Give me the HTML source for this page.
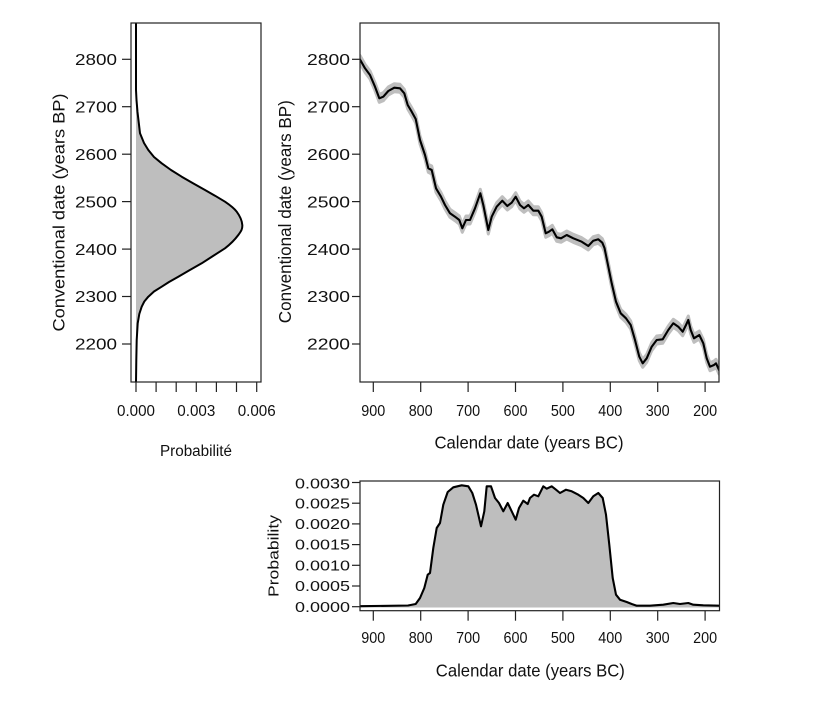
<!DOCTYPE html>
<html><head><meta charset="utf-8"><style>
html,body{margin:0;padding:0;background:#fff;}
svg{display:block;}
text{font-family:"Liberation Sans",Arial,sans-serif;fill:#111;}
</style></head><body>
<svg width="840" height="704" viewBox="0 0 840 704" xmlns="http://www.w3.org/2000/svg">
<defs>
<polyline id="cc" fill="none" stroke-linejoin="round" stroke-linecap="round" points="360,59.5 365,68.3 370,75 375,86.7 379.3,98.3 383.3,96.7 388.3,91 394.3,87.7 400,88.3 404.3,93.3 407.7,105 411.7,111.7 415.7,119 420,140 425,155 428.3,168.3 431.7,170 436,188.3 441,196.7 445,205 450,213.3 455,216.7 459.3,220 462.3,228.3 466,220 470,220 475,208.3 480.3,193.3 483.3,205 488.3,230 491.7,216.7 496.7,206.7 502.3,200.7 507.3,206 511.7,202.7 515.7,196.7 520,205 524,208.3 528.3,205 533.3,210.7 538.3,210.7 541.7,216.7 545.7,233.3 549,231.7 552.3,229.3 556.7,237.3 561,238.3 566.7,235 573.3,238.3 581.7,241.7 588.3,246 593.3,240.7 598.3,239.3 602.3,242.7 604.5,248 607.3,261.7 611.7,283.3 616,301.7 620.7,313.3 626,318.3 630.7,325 635,340 639.3,356.7 642.7,363.3 646.7,358.3 651.7,346.7 656.7,340 662.7,339.3 668.3,330 673.3,323.3 678.3,326.7 682.7,331.7 686,325 688.3,320 690.7,330 694,338.3 699.3,335 703.3,343.3 706.7,358.3 710,366.7 714,365 716,363.3 719,370"/>
<clipPath id="mainclip"><rect x="360" y="23" width="359" height="359"/></clipPath>
<path id="dens" d="M136,23 L136,90 L136.5,100 L137.5,112 L140,133.3 L144,143 L148.3,150 L154,157 L161.7,163.3 L171,170 L181.7,176.7 L193,183.3 L205,190 L215,195.7 L225,201.7 C230.3,205.3 233.8,207.8 236.7,211.7 C239.6,215.6 242,221.1 242.3,225 C242.6,228.9 241.2,231.1 238.3,235 C235.4,238.9 231.1,243.6 225,248.3 L213,256 L201.7,263.3 L189,270.5 L178.3,276.7 L169,282 L161.7,286.7 L154,291.5 L148.3,296.7 L144.3,301.5 L141.7,306.7 L139.3,314 L137.7,323.3 L136.7,340 L136.3,360 L136,382"/>
</defs>

<!-- LEFT PANEL -->
<path d="M136,95 L136.5,100 L137.5,112 L140,133.3 L144,143 L148.3,150 L154,157 L161.7,163.3 L171,170 L181.7,176.7 L193,183.3 L205,190 L215,195.7 L225,201.7 C230.3,205.3 233.8,207.8 236.7,211.7 C239.6,215.6 242,221.1 242.3,225 C242.6,228.9 241.2,231.1 238.3,235 C235.4,238.9 231.1,243.6 225,248.3 L213,256 L201.7,263.3 L189,270.5 L178.3,276.7 L169,282 L161.7,286.7 L154,291.5 L148.3,296.7 L144.3,301.5 L141.7,306.7 L139.3,314 L137.7,323.3 L136.7,340 L136,345 Z" fill="#bebebe" stroke="none"/>
<use href="#dens" fill="none" stroke="#000" stroke-width="2" stroke-linejoin="round"/>
<rect x="131" y="23" width="130" height="359" fill="none" stroke="#222" stroke-width="1.2"/>
<g stroke="#222" stroke-width="1.2">
<line x1="122" y1="59.3" x2="131" y2="59.3"/>
<line x1="122" y1="106.7" x2="131" y2="106.7"/>
<line x1="122" y1="154.2" x2="131" y2="154.2"/>
<line x1="122" y1="201.6" x2="131" y2="201.6"/>
<line x1="122" y1="249.1" x2="131" y2="249.1"/>
<line x1="122" y1="296.5" x2="131" y2="296.5"/>
<line x1="122" y1="344" x2="131" y2="344"/>
<line x1="136" y1="382" x2="136" y2="392"/>
<line x1="156.1" y1="382" x2="156.1" y2="392"/>
<line x1="176.2" y1="382" x2="176.2" y2="392"/>
<line x1="196.3" y1="382" x2="196.3" y2="392"/>
<line x1="216.4" y1="382" x2="216.4" y2="392"/>
<line x1="236.5" y1="382" x2="236.5" y2="392"/>
<line x1="256.7" y1="382" x2="256.7" y2="392"/>
</g>
<g font-size="15.5" text-anchor="end">
<text x="117" y="65" textLength="42" lengthAdjust="spacingAndGlyphs">2800</text>
<text x="117" y="112.4" textLength="42" lengthAdjust="spacingAndGlyphs">2700</text>
<text x="117" y="159.9" textLength="42" lengthAdjust="spacingAndGlyphs">2600</text>
<text x="117" y="207.3" textLength="42" lengthAdjust="spacingAndGlyphs">2500</text>
<text x="117" y="254.8" textLength="42" lengthAdjust="spacingAndGlyphs">2400</text>
<text x="117" y="302.2" textLength="42" lengthAdjust="spacingAndGlyphs">2300</text>
<text x="117" y="349.7" textLength="42" lengthAdjust="spacingAndGlyphs">2200</text>
</g>
<g font-size="15.5" text-anchor="middle">
<text x="136" y="416" textLength="38" lengthAdjust="spacingAndGlyphs">0.000</text>
<text x="196.3" y="416" textLength="38" lengthAdjust="spacingAndGlyphs">0.003</text>
<text x="256.7" y="416" textLength="38" lengthAdjust="spacingAndGlyphs">0.006</text>
<text x="196" y="456" textLength="72" lengthAdjust="spacingAndGlyphs">Probabilité</text>
</g>
<text font-size="16.5" text-anchor="middle" transform="translate(64.5,212.5) rotate(-90)" textLength="238" lengthAdjust="spacingAndGlyphs">Conventional date (years BP)</text>

<!-- MAIN PANEL -->
<g clip-path="url(#mainclip)">
<use href="#cc" stroke="#bebebe" stroke-width="3" transform="translate(0,-4)"/>
<use href="#cc" stroke="#bebebe" stroke-width="3" transform="translate(0,-2.5)"/>
<use href="#cc" stroke="#bebebe" stroke-width="3" transform="translate(0,-1)"/>
<use href="#cc" stroke="#bebebe" stroke-width="3" transform="translate(0,1)"/>
<use href="#cc" stroke="#bebebe" stroke-width="3" transform="translate(0,2.5)"/>
<use href="#cc" stroke="#bebebe" stroke-width="3" transform="translate(0,4)"/>
<use href="#cc" stroke="#000" stroke-width="2.1"/>
</g>
<rect x="360" y="23" width="359" height="359" fill="none" stroke="#222" stroke-width="1.2"/>
<g stroke="#222" stroke-width="1.2">
<line x1="352" y1="59.3" x2="360" y2="59.3"/>
<line x1="352" y1="106.7" x2="360" y2="106.7"/>
<line x1="352" y1="154.2" x2="360" y2="154.2"/>
<line x1="352" y1="201.6" x2="360" y2="201.6"/>
<line x1="352" y1="249.1" x2="360" y2="249.1"/>
<line x1="352" y1="296.5" x2="360" y2="296.5"/>
<line x1="352" y1="344" x2="360" y2="344"/>
<line x1="373.3" y1="382" x2="373.3" y2="392"/>
<line x1="420.7" y1="382" x2="420.7" y2="392"/>
<line x1="468.1" y1="382" x2="468.1" y2="392"/>
<line x1="515.5" y1="382" x2="515.5" y2="392"/>
<line x1="562.9" y1="382" x2="562.9" y2="392"/>
<line x1="610.3" y1="382" x2="610.3" y2="392"/>
<line x1="657.7" y1="382" x2="657.7" y2="392"/>
<line x1="705.1" y1="382" x2="705.1" y2="392"/>
</g>
<g font-size="15.5" text-anchor="end">
<text x="350" y="65" textLength="43" lengthAdjust="spacingAndGlyphs">2800</text>
<text x="350" y="112.4" textLength="43" lengthAdjust="spacingAndGlyphs">2700</text>
<text x="350" y="159.9" textLength="43" lengthAdjust="spacingAndGlyphs">2600</text>
<text x="350" y="207.3" textLength="43" lengthAdjust="spacingAndGlyphs">2500</text>
<text x="350" y="254.8" textLength="43" lengthAdjust="spacingAndGlyphs">2400</text>
<text x="350" y="302.2" textLength="43" lengthAdjust="spacingAndGlyphs">2300</text>
<text x="350" y="349.7" textLength="43" lengthAdjust="spacingAndGlyphs">2200</text>
</g>
<g font-size="16" text-anchor="middle">
<text x="373.3" y="416" textLength="24" lengthAdjust="spacingAndGlyphs">900</text>
<text x="420.7" y="416" textLength="24" lengthAdjust="spacingAndGlyphs">800</text>
<text x="468.1" y="416" textLength="24" lengthAdjust="spacingAndGlyphs">700</text>
<text x="515.5" y="416" textLength="24" lengthAdjust="spacingAndGlyphs">600</text>
<text x="562.9" y="416" textLength="24" lengthAdjust="spacingAndGlyphs">500</text>
<text x="610.3" y="416" textLength="24" lengthAdjust="spacingAndGlyphs">400</text>
<text x="657.7" y="416" textLength="24" lengthAdjust="spacingAndGlyphs">300</text>
<text x="705.1" y="416" textLength="24" lengthAdjust="spacingAndGlyphs">200</text>
</g>
<text font-size="17.5" text-anchor="middle" x="529" y="448.5" textLength="189" lengthAdjust="spacingAndGlyphs">Calendar date (years BC)</text>
<text font-size="17.5" text-anchor="middle" transform="translate(291,211.7) rotate(-90)" textLength="223" lengthAdjust="spacingAndGlyphs">Conventional date (years BP)</text>

<!-- BOTTOM PANEL -->
<path d="M360,606.7 L408,605.5 L415.7,604 L420,598 L424.3,588 L427.7,574.7 L430,573 L433.3,548 L436.7,528 L440,523 L443.3,504.7 L447.7,492 L453.3,487.3 L461.7,485.3 L468.3,486.3 L472.3,493 L476,504.7 L481,526.3 L484.3,511.3 L486.7,486.3 L491,486.3 L495,498 L499,503 L503.3,511.3 L507.7,503 L511.7,511.3 L515.7,519.7 L519,508 L523.3,500.7 L527.7,504 L530,498 L534,494.7 L538.3,496.3 L543.3,486.3 L546.7,488.7 L551.7,486.3 L556,489.7 L560,493 L566,489.7 L571.7,491.3 L578.3,494.7 L583.3,498 L588.3,503 L593.3,496.3 L598.3,493 L602.7,498 L606,514.7 L609.3,544.7 L612.7,578 L616,594.7 L620,599.7 L626.7,602 L631.7,604 L636.7,605.7 L650,605.7 L663.3,604.7 L673.3,603 L680,604 L688.3,603 L693.3,604.7 L703.3,605.3 L719,605.7 L719,607.5 L360,607.5 Z" fill="#bebebe"/>
<polyline fill="none" stroke="#000" stroke-width="2.1" stroke-linejoin="round" points="360,606.2 408,605.5 415.7,604 420,598 424.3,588 427.7,574.7 430,573 433.3,548 436.7,528 440,523 443.3,504.7 447.7,492 453.3,487.3 461.7,485.3 468.3,486.3 472.3,493 476,504.7 481,526.3 484.3,511.3 486.7,486.3 491,486.3 495,498 499,503 503.3,511.3 507.7,503 511.7,511.3 515.7,519.7 519,508 523.3,500.7 527.7,504 530,498 534,494.7 538.3,496.3 543.3,486.3 546.7,488.7 551.7,486.3 556,489.7 560,493 566,489.7 571.7,491.3 578.3,494.7 583.3,498 588.3,503 593.3,496.3 598.3,493 602.7,498 606,514.7 609.3,544.7 612.7,578 616,594.7 620,599.7 626.7,602 631.7,604 636.7,605.7 650,605.7 663.3,604.7 673.3,603 680,604 688.3,603 693.3,604.7 703.3,605.3 719,605.7"/>
<rect x="360" y="481" width="359.5" height="129.7" fill="none" stroke="#222" stroke-width="1.2"/>
<g stroke="#222" stroke-width="1.2">
<line x1="352" y1="482.5" x2="360" y2="482.5"/>
<line x1="352" y1="503.2" x2="360" y2="503.2"/>
<line x1="352" y1="523.9" x2="360" y2="523.9"/>
<line x1="352" y1="544.6" x2="360" y2="544.6"/>
<line x1="352" y1="565.3" x2="360" y2="565.3"/>
<line x1="352" y1="586" x2="360" y2="586"/>
<line x1="352" y1="606.7" x2="360" y2="606.7"/>
<line x1="373.3" y1="610.7" x2="373.3" y2="620.7"/>
<line x1="420.7" y1="610.7" x2="420.7" y2="620.7"/>
<line x1="468.1" y1="610.7" x2="468.1" y2="620.7"/>
<line x1="515.5" y1="610.7" x2="515.5" y2="620.7"/>
<line x1="562.9" y1="610.7" x2="562.9" y2="620.7"/>
<line x1="610.3" y1="610.7" x2="610.3" y2="620.7"/>
<line x1="657.7" y1="610.7" x2="657.7" y2="620.7"/>
<line x1="705.1" y1="610.7" x2="705.1" y2="620.7"/>
</g>
<g font-size="14.5" text-anchor="end">
<text x="350" y="488.5" textLength="55" lengthAdjust="spacingAndGlyphs">0.0030</text>
<text x="350" y="508.3" textLength="55" lengthAdjust="spacingAndGlyphs">0.0025</text>
<text x="350" y="529" textLength="55" lengthAdjust="spacingAndGlyphs">0.0020</text>
<text x="350" y="549.7" textLength="55" lengthAdjust="spacingAndGlyphs">0.0015</text>
<text x="350" y="570.4" textLength="55" lengthAdjust="spacingAndGlyphs">0.0010</text>
<text x="350" y="591.1" textLength="55" lengthAdjust="spacingAndGlyphs">0.0005</text>
<text x="350" y="611.8" textLength="55" lengthAdjust="spacingAndGlyphs">0.0000</text>
</g>
<g font-size="16" text-anchor="middle">
<text x="373.3" y="643" textLength="24" lengthAdjust="spacingAndGlyphs">900</text>
<text x="420.7" y="643" textLength="24" lengthAdjust="spacingAndGlyphs">800</text>
<text x="468.1" y="643" textLength="24" lengthAdjust="spacingAndGlyphs">700</text>
<text x="515.5" y="643" textLength="24" lengthAdjust="spacingAndGlyphs">600</text>
<text x="562.9" y="643" textLength="24" lengthAdjust="spacingAndGlyphs">500</text>
<text x="610.3" y="643" textLength="24" lengthAdjust="spacingAndGlyphs">400</text>
<text x="657.7" y="643" textLength="24" lengthAdjust="spacingAndGlyphs">300</text>
<text x="705.1" y="643" textLength="24" lengthAdjust="spacingAndGlyphs">200</text>
</g>
<text font-size="17.5" text-anchor="middle" x="530.3" y="676.5" textLength="189" lengthAdjust="spacingAndGlyphs">Calendar date (years BC)</text>
<text font-size="15" text-anchor="middle" transform="translate(278.5,556) rotate(-90)" textLength="82" lengthAdjust="spacingAndGlyphs">Probability</text>
</svg>
</body></html>
